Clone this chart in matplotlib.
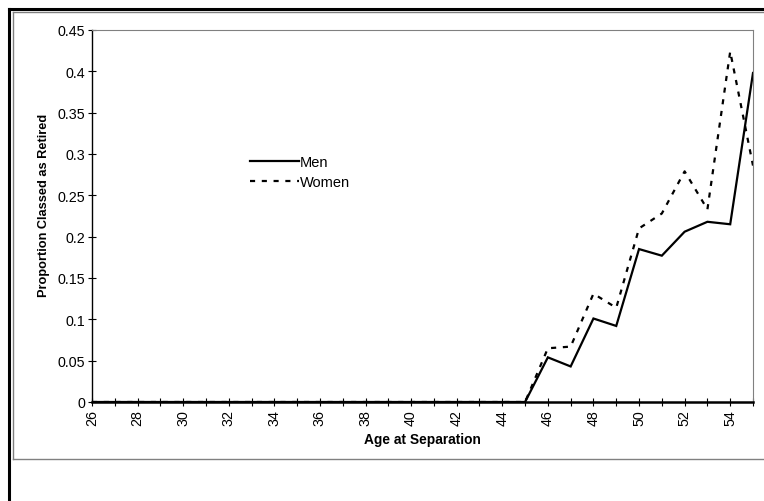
import matplotlib
matplotlib.use("Agg")
import matplotlib.pyplot as plt
from matplotlib.lines import Line2D

plt.rcParams['font.family'] = ['Liberation Sans', 'DejaVu Sans']

ages = list(range(26, 56))
men = [0.0] * 20 + [0.054, 0.043, 0.101, 0.092, 0.185, 0.177, 0.206, 0.218, 0.215, 0.398]
women = [0.0] * 20 + [0.065, 0.067, 0.131, 0.114, 0.210, 0.228, 0.279, 0.233, 0.424, 0.286]
ytick_vals = [0, 0.05, 0.1, 0.15, 0.2, 0.25, 0.3, 0.35, 0.4, 0.45]
ytick_labels = ["0", "0.05", "0.1", "0.15", "0.2", "0.25", "0.3", "0.35", "0.4", "0.45"]

W, H = 764, 502
fig = plt.figure(figsize=(W / 100, H / 100), dpi=100)

def fx(px):
    return px / W

def fy(py):
    return 1 - py / H

ax = fig.add_axes([fx(92), fy(403), fx(753) - fx(92), fy(31) - fy(403)])

ax.plot(ages, men, color='black', lw=1.6, label='Men', solid_joinstyle='miter')
ax.plot(ages, women, color='black', lw=1.6, dashes=(2.3, 3.0), label='Women')

ax.set_xlim(26, 55)
ax.set_ylim(0, 0.45)
ax.set_xticks(ages)
ax.set_xticklabels([str(a) if (a % 2 == 0) else "" for a in ages], rotation=90, fontsize=10.3)
ax.set_yticks(ytick_vals)
ax.set_yticklabels(ytick_labels, fontsize=10.3)
ax.tick_params(axis='both', direction='inout', length=6, width=0.8, pad=2, colors='black')

for s in ['top', 'right']:
    ax.spines[s].set_color('#808080')
    ax.spines[s].set_linewidth(0.8)
ax.spines['left'].set_linewidth(1.0)
ax.spines['bottom'].set_linewidth(1.8)

ax.set_xlabel('Age at Separation', fontsize=9.9, fontweight='bold')
ax.xaxis.set_label_coords(0.5, -(440 - 403) / 372, transform=ax.transAxes)
ax.xaxis.label.set_va('center')
ax.set_ylabel('Proportion Classed as Retired', fontsize=9.2, fontweight='bold')
ax.yaxis.set_label_coords(-(92 - 44) / 661, (403 - 205) / 372, transform=ax.transAxes)
ax.yaxis.label.set_va('center')

leg = ax.legend(loc='center left', bbox_to_anchor=(fx(250), fy(173)), bbox_transform=fig.transFigure,
                frameon=False, fontsize=10.5, handlelength=3.35, handletextpad=0.05,
                labelspacing=0.45, borderpad=0, borderaxespad=0)

# outer frame lines
fig.add_artist(Line2D([fx(9), fx(9)], [fy(10), fy(502)], color='black', lw=2.2, transform=fig.transFigure))
fig.add_artist(Line2D([fx(9), fx(764)], [fy(10), fy(10)], color='black', lw=2.2, transform=fig.transFigure))
fig.add_artist(Line2D([fx(12.5), fx(12.5)], [fy(13), fy(460)], color='#808080', lw=1.0, transform=fig.transFigure))
fig.add_artist(Line2D([fx(12.5), fx(764)], [fy(13), fy(13)], color='#808080', lw=1.0, transform=fig.transFigure))
fig.add_artist(Line2D([fx(12.5), fx(764)], [fy(460), fy(460)], color='#808080', lw=1.0, transform=fig.transFigure))

fig.savefig('out.png', dpi=100)
